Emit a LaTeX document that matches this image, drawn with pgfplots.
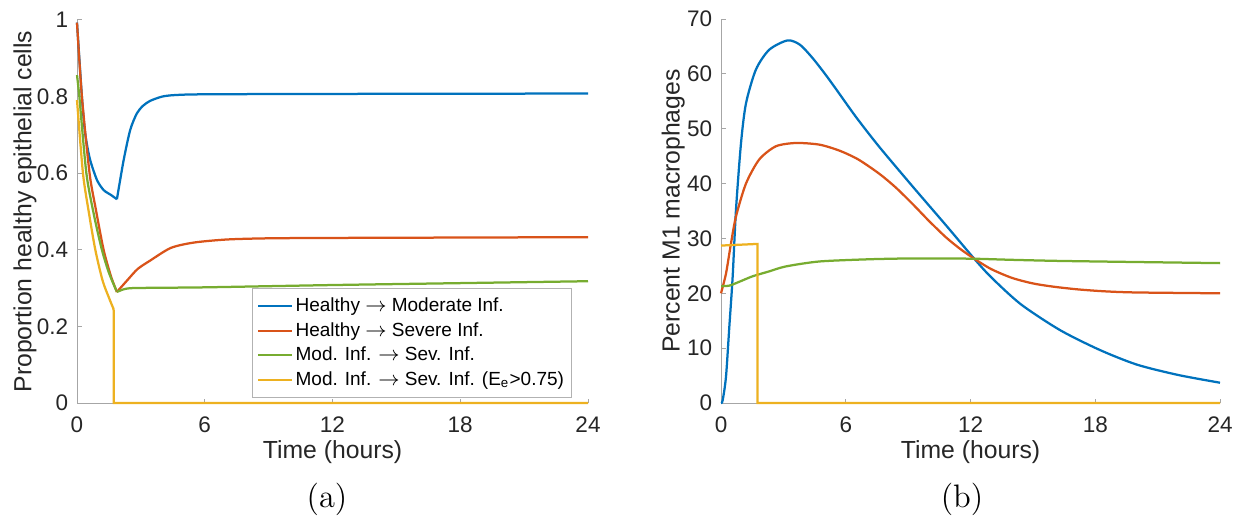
\documentclass[border=0pt]{standalone}
\usepackage{fontspec}
\usepackage{pgfplots}
\pgfplotsset{compat=1.18}
\newfontfamily\arial{Liberation Sans}
\definecolor{mblue}{rgb}{0,0.447,0.741}
\definecolor{mred}{rgb}{0.85,0.325,0.098}
\definecolor{mgreen}{rgb}{0.466,0.674,0.188}
\definecolor{myellow}{rgb}{0.929,0.694,0.125}
\pgfplotsset{
  mstyle/.style={
    scale only axis, xmin=0, xmax=24, xtick={0,6,12,18,24},
    axis lines*=left, tick align=inside, major tick length=1.8pt,
    axis line style={gray!70, line width=0.4pt},
    every tick/.style={gray!70, line width=0.4pt},
    tick label style={font=\arial\fontsize{9}{10}\selectfont, text=black!85},
    /pgf/number format/assume math mode=true,
    xticklabel style={yshift=-2pt},
    label style={font=\arial\fontsize{9.9}{11}\selectfont, text=black!85},
    clip=false,
    every axis plot/.append style={line width=0.9pt, no markers},
  },
  sm/.style={smooth, tension=0.45},
}
\begin{document}
\begin{tikzpicture}
\useasboundingbox (0,0) rectangle (499.2pt,209.2pt);
\begin{axis}[mstyle,
  at={(30.8pt,48pt)}, anchor=south west,
  width=204.4pt, height=153.2pt,
  ymin=0, ymax=1, ytick={0,0.2,0.4,0.6,0.8,1},
  xlabel={Time (hours)}, ylabel={Proportion healthy epithelial cells},
  xlabel style={at={(axis description cs:0.5,-0.128)}, anchor=center},
  ylabel style={at={(axis description cs:-0.102,0.5)}, anchor=center},
  legend style={at={(0.9687,0.013)}, anchor=south east, draw=gray!60, line width=0.4pt, fill=white,
    font=\arial\fontsize{7.6}{9}\selectfont,
    nodes={text height=6pt, text depth=1.8pt, inner ysep=1pt, inner xsep=1pt},
    inner xsep=2pt, inner ysep=2.2pt, row sep=0pt},
  legend cell align=left,
  legend image code/.code={\draw[#1, line width=0.8pt] (0pt,0pt) -- (13.5pt,0pt);},
]
\addplot[mblue, sm] coordinates {(0,0.993)(0.23,0.80)(0.35,0.72)(0.45,0.68)(0.62,0.634)(0.94,0.582)(1.25,0.556)(1.6,0.543)(1.875,0.532)};
\addlegendentry{Healthy $\rightarrow$ Moderate Inf.}
\addplot[mred, sm] coordinates {(0,0.993)(0.23,0.80)(0.59,0.60)(0.87,0.51)(1.25,0.40)(1.6,0.33)(1.875,0.29)};
\addlegendentry{Healthy $\rightarrow$ Severe Inf.}
\addplot[mgreen, sm] coordinates {(0,0.856)(0.11,0.80)(0.44,0.60)(0.8,0.49)(1.17,0.40)(1.5,0.34)(1.875,0.29)};
\addlegendentry{Mod. Inf. $\rightarrow$ Sev. Inf.}
\addplot[myellow, sm] coordinates {(0,0.791)(0.28,0.60)(0.55,0.50)(0.86,0.40)(1.2,0.32)(1.5,0.275)(1.72,0.245)};
\addlegendentry{Mod. Inf. $\rightarrow$ Sev. Inf. (E\textsubscript{e}>0.75)}
\addplot[mblue, sm, forget plot] coordinates {(1.875,0.532)(2.19,0.634)(2.5,0.713)(2.81,0.756)(3.1,0.776)(3.44,0.789)(4,0.80)(4.6,0.804)(6,0.806)(12,0.807)(24,0.808)};
\addplot[mred, sm, forget plot] coordinates {(1.875,0.29)(2.37,0.321)(2.85,0.35)(3.44,0.372)(4.41,0.405)(5.5,0.419)(7.06,0.427)(9,0.43)(12,0.431)(18,0.432)(24,0.433)};
\addplot[mgreen, sm, forget plot] coordinates {(1.875,0.29)(2.2,0.297)(2.6,0.30)(4,0.301)(6,0.302)(12,0.308)(18,0.313)(24,0.318)};
\addplot[myellow, forget plot] coordinates {(1.72,0.245)(1.73,0)(24,0)};
\end{axis}
\begin{axis}[mstyle,
  at={(288.4pt,48pt)}, anchor=south west,
  width=199.6pt, height=153.6pt,
  ymin=0, ymax=70, ytick={0,10,...,70},
  xlabel={Time (hours)}, ylabel={Percent M1 macrophages},
  xlabel style={at={(axis description cs:0.5,-0.128)}, anchor=center},
  ylabel style={at={(axis description cs:-0.096,0.5)}, anchor=center},
]
\addplot[mblue, sm] coordinates {(0,0)(0.08,0.5)(0.24,4.8)(0.4,13.9)(0.56,23)(0.72,35.2)(0.96,47.3)(1.2,54.6)(1.68,60.8)(2.32,64.4)(3.2,66.1)(3.8,65.3)(4.4,62.9)(5,60.0)(5.5,57.4)(6.5,52.1)(7.61,46.7)(9.21,39.5)(10.82,32.4)(12.18,26.3)(13,22.9)(14.42,18.0)(16.3,13.3)(18.2,9.7)(20,7.0)(22,5.1)(24,3.7)};
\addplot[mred, sm] coordinates {(0,20)(0.24,23.6)(0.48,29.1)(0.72,34)(1.2,40)(1.84,44.4)(2.64,46.8)(3.6,47.4)(4.73,47.1)(5.7,46)(6.6,44.4)(7.61,41.8)(8.4,39.3)(9.21,36.3)(10,33.2)(10.82,30.2)(11.5,28.1)(12.18,26.3)(13,24.4)(14,22.8)(15,21.8)(16,21.2)(17.2,20.7)(18.5,20.35)(20,20.15)(24,20.0)};
\addplot[mgreen, sm] coordinates {(0,21.3)(0.4,21.4)(0.88,22.1)(1.52,23.1)(2.32,24.0)(3.12,24.9)(4.73,25.8)(7.1,26.2)(9,26.35)(10.5,26.35)(12.18,26.3)(14,26.1)(16.3,25.9)(20,25.7)(24,25.5)};
\addplot[myellow] coordinates {(0,28.7)(1.76,29.0)(1.76,0)(24,0)};
\end{axis}
\node[font=\fontsize{13}{15}\selectfont] at (130.8pt,9.6pt) {(a)};
\node[font=\fontsize{13}{15}\selectfont] at (384.8pt,9.6pt) {(b)};
\end{tikzpicture}
\end{document}
